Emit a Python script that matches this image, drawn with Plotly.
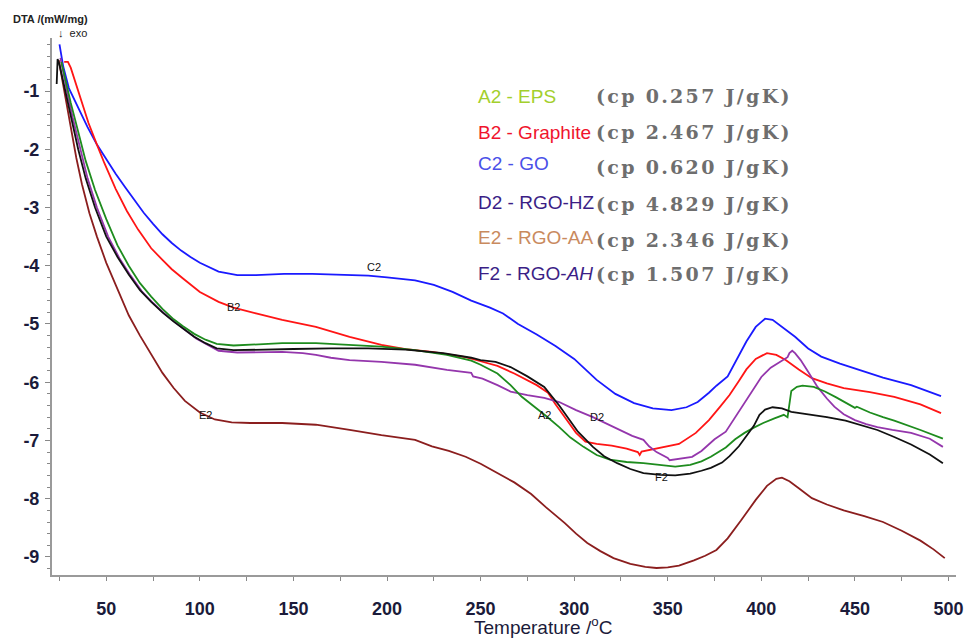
import plotly.graph_objects as go

# ---------------- data ----------------
T_C2 = [25, 27, 30, 35, 40, 45, 50, 55, 60, 65, 70, 75, 80, 85, 90, 95, 100, 110, 120, 130, 145, 160, 175, 190, 200,
        215, 225, 235, 245, 255, 262, 270, 280, 290, 300, 312, 322, 332, 342, 352, 360, 366, 372, 376, 382, 387,
        392, 397, 402, 406, 412, 418, 425, 432, 442, 453, 465, 480, 496]
V_C2 = [-0.2, -0.58, -0.95, -1.3, -1.62, -1.92, -2.18, -2.42, -2.65, -2.88, -3.09, -3.28, -3.46, -3.61, -3.74, -3.85,
        -3.95, -4.1, -4.16, -4.16, -4.14, -4.14, -4.15, -4.17, -4.2, -4.25, -4.33, -4.45, -4.6, -4.72, -4.82, -5.0,
        -5.18, -5.38, -5.6, -5.96, -6.2, -6.36, -6.45, -6.48, -6.43, -6.34, -6.18, -6.06, -5.9, -5.6, -5.3, -5.05,
        -4.91, -4.93, -5.08, -5.22, -5.42, -5.56, -5.68, -5.79, -5.92, -6.05, -6.24]

T_B2 = [27.5, 29.5, 31, 34, 37, 40.5, 45, 49, 55, 61, 67, 74, 80, 85, 91, 100, 110, 118, 130, 144, 162, 180, 197,
        210, 224, 242, 250, 259, 268, 275, 280, 286, 290, 295, 301, 306, 312, 320, 328, 334, 335, 336, 342, 350,
        356, 365, 372, 378, 383, 388, 392, 397, 403, 408, 413, 420, 427, 435, 444, 458, 471, 485, 496]
V_B2 = [-0.5, -0.5, -0.6, -0.9, -1.2, -1.55, -1.92, -2.24, -2.68, -3.06, -3.38, -3.7, -3.9, -4.06, -4.22, -4.45,
        -4.62, -4.72, -4.82, -4.93, -5.05, -5.22, -5.36, -5.43, -5.48, -5.57, -5.64, -5.72, -5.85, -5.96, -6.05,
        -6.18, -6.38, -6.6, -6.87, -7.02, -7.06, -7.09, -7.14, -7.2, -7.25, -7.19, -7.15, -7.1, -7.06, -6.87, -6.65,
        -6.42, -6.22, -5.98, -5.78, -5.6, -5.5, -5.53, -5.62, -5.78, -5.93, -6.02, -6.1, -6.17, -6.25, -6.38, -6.53]

T_A2 = [26, 28, 31, 35, 39, 44, 50, 56, 62, 68, 74, 80, 86, 91, 97, 103, 109, 118, 127, 144, 162, 180, 197, 215,
        232, 245, 250, 259, 266, 272, 279, 285, 292, 298, 305, 312, 319, 328, 337, 346, 354, 362, 368, 373, 381,
        386, 391, 396, 401, 407, 412, 414, 415, 416, 419, 422, 428, 434, 440, 446, 450, 451, 458, 465, 471, 485, 497]
V_A2 = [-0.5, -0.8, -1.2, -1.7, -2.2, -2.7, -3.2, -3.65, -4.0, -4.3, -4.53, -4.74, -4.92, -5.04, -5.17, -5.27,
        -5.34, -5.37, -5.36, -5.33, -5.33, -5.36, -5.39, -5.45, -5.53, -5.63, -5.7, -5.85, -6.05, -6.25, -6.42,
        -6.58, -6.77, -6.95, -7.11, -7.25, -7.33, -7.37, -7.39, -7.42, -7.45, -7.42, -7.36, -7.28, -7.12, -6.98,
        -6.87, -6.78, -6.7, -6.62, -6.56, -6.6, -6.4, -6.15, -6.08, -6.06, -6.08, -6.16, -6.26, -6.36, -6.44, -6.42,
        -6.52, -6.6, -6.66, -6.82, -6.97]

T_D2 = [25.5, 27, 29, 32, 36, 40, 45, 51, 57, 63, 69, 75, 81, 87, 92, 98, 104, 110, 120, 135, 144, 155, 162, 170,
        180, 197, 215, 232, 245, 246, 251, 259, 266, 275, 284, 292, 301, 310, 322, 331, 337, 340, 344, 350, 351,
        355, 363, 368, 375, 381, 387, 391, 396, 400, 405, 411, 414, 415, 416.5, 418, 421, 425, 430, 435, 439, 444,
        450, 456, 462, 470, 480, 490, 497]
V_D2 = [-0.43, -0.65, -1.0, -1.45, -2.0, -2.5, -3.0, -3.5, -3.87, -4.17, -4.44, -4.64, -4.82, -4.98, -5.1, -5.25,
        -5.36, -5.46, -5.49, -5.48, -5.48, -5.5, -5.53, -5.58, -5.62, -5.65, -5.7, -5.79, -5.84, -5.9, -5.94, -6.05,
        -6.16, -6.22, -6.27, -6.34, -6.48, -6.6, -6.79, -6.92, -6.99, -7.1, -7.2, -7.3, -7.34, -7.32, -7.28, -7.18,
        -6.98, -6.85, -6.55, -6.36, -6.12, -5.91, -5.75, -5.62, -5.57, -5.5, -5.46, -5.5, -5.62, -5.82, -6.08,
        -6.28, -6.42, -6.55, -6.65, -6.72, -6.77, -6.82, -6.87, -6.97, -7.11]

T_E2 = [24.6, 26, 28, 31, 34, 37, 41, 45, 50, 56, 62, 68, 74, 80, 86, 92, 100, 108, 117, 127, 144, 162, 180, 197,
        215, 224, 233, 242, 250, 259, 268, 277, 285, 295, 301, 307, 314, 321, 330, 338, 344, 350, 356, 364, 370,
        376, 382, 389, 397, 403, 408, 411, 415, 420, 427, 435, 444, 455, 465, 475, 485, 492, 498]
V_E2 = [-0.47, -0.72, -1.1, -1.65, -2.15, -2.6, -3.1, -3.5, -3.95, -4.4, -4.85, -5.2, -5.52, -5.84, -6.1, -6.32,
        -6.52, -6.64, -6.69, -6.7, -6.7, -6.73, -6.82, -6.91, -6.99, -7.1, -7.18, -7.28, -7.4, -7.56, -7.72, -7.92,
        -8.15, -8.42, -8.6, -8.76, -8.9, -9.02, -9.12, -9.17, -9.19, -9.18, -9.15, -9.06, -8.98, -8.88, -8.68,
        -8.38, -8.02, -7.78, -7.66, -7.64, -7.7, -7.82, -7.99, -8.1, -8.2, -8.3, -8.4, -8.55, -8.72, -8.87, -9.02]

T_F2 = [23.5, 24, 25, 26, 28, 31, 35, 39, 44, 50, 56, 62, 68, 74, 80, 86, 91, 97, 103, 109, 118, 130, 150, 170,
        190, 210, 230, 245, 250, 258, 266, 275, 284, 292, 297, 302, 310, 316, 323, 330, 337, 346, 354, 362, 368,
        373, 379, 383, 388, 392, 396, 399, 402, 406, 411, 416, 425, 435, 445, 453, 462, 471, 480, 490, 497]
V_F2 = [-0.88, -0.45, -0.55, -0.7, -1.0, -1.45, -2.0, -2.5, -3.0, -3.5, -3.85, -4.15, -4.42, -4.62, -4.8, -4.96,
        -5.08, -5.22, -5.33, -5.42, -5.45, -5.44, -5.43, -5.42, -5.42, -5.44, -5.5, -5.58, -5.62, -5.65, -5.74,
        -5.9, -6.08, -6.4, -6.62, -6.85, -7.11, -7.27, -7.39, -7.49, -7.56, -7.59, -7.6, -7.57, -7.52, -7.47,
        -7.38, -7.27, -7.1, -6.92, -6.75, -6.56, -6.47, -6.43, -6.45, -6.51, -6.55, -6.6, -6.66, -6.73, -6.82,
        -6.94, -7.07, -7.24, -7.39]

SERIES = ["A2", "B2", "C2", "D2", "E2", "F2"]
NAMES = ["EPS", "Graphite", "GO", "RGO-HZ", "RGO-AA", "RGO-<i>AH</i>"]
CP = ["0.257", "2.467", "0.620", "4.829", "2.346", "1.507"]

Y_TICK_VALUES = [-1, -2, -3, -4, -5, -6, -7, -8, -9]
Y_TICK_LABELS = ["-1", "-2", "-3", "-4", "-5", "-6", "-7", "-8", "-9"]
X_TICK_VALUES = [50, 100, 150, 200, 250, 300, 350, 400, 450, 500]
X_TICK_LABELS = ["50", "100", "150", "200", "250", "300", "350", "400", "450", "500"]

# curve label positions (data units)
LABEL_T = {"A2": 284, "B2": 118, "C2": 193, "D2": 312, "E2": 103, "F2": 346.5}
LABEL_V = {"A2": -6.56, "B2": -4.71, "C2": -4.02, "D2": -6.6, "E2": -6.56, "F2": -7.63}

# ---------------- styling ----------------
line_colors = {"A2": "#1e8c1e", "B2": "#ff1515", "C2": "#1a1aff", "D2": "#9436ac", "E2": "#8b1e1e", "F2": "#111111"}
legend_colors = {"A2": "#a3cf2c", "B2": "#f0142d", "C2": "#4a50e8", "D2": "#3b1e86", "E2": "#c98a5e", "F2": "#3b1e86"}
data = {"A2": (T_A2, V_A2), "B2": (T_B2, V_B2), "C2": (T_C2, V_C2),
        "D2": (T_D2, V_D2), "E2": (T_E2, V_E2), "F2": (T_F2, V_F2)}

W, H = 971, 638
L, R, TOP, B = 52, 8, 38, 63
PW, PH = W - L - R, H - TOP - B


def px(xp):
    return (xp - L) / PW


def py(yp):
    return (H - B - yp) / PH


fig = go.Figure()
for s in ["E2", "C2", "B2", "D2", "A2", "F2"]:
    t, v = data[s]
    fig.add_trace(go.Scatter(x=t, y=v, mode="lines", line=dict(color=line_colors[s], width=1.8),
                             showlegend=False, hoverinfo="skip"))

ann = []
for s in SERIES:
    ann.append(dict(x=LABEL_T[s], y=LABEL_V[s], xref="x", yref="y", text=s, showarrow=False,
                    font=dict(family="Liberation Sans, Arial", size=11, color="#111")))

leg_y = [96, 132, 163, 202, 237, 273]
cp_y = [96, 132, 167, 204, 240, 274]
for i, s in enumerate(SERIES):
    ann.append(dict(x=px(479), y=py(leg_y[i]), xref="paper", yref="paper", xanchor="left", yanchor="middle",
                    text=f"{s} - {NAMES[i]}", showarrow=False,
                    font=dict(family="Liberation Sans, Arial", size=19, color=legend_colors[s])))
    ann.append(dict(x=px(598), y=py(cp_y[i]), xref="paper", yref="paper", xanchor="left", yanchor="middle",
                    text=f'<span style="letter-spacing:2.3px">(cp {CP[i]} J/gK)</span>', showarrow=False,
                    font=dict(family="DejaVu Serif", size=19, color="#6e6e6e", weight="bold")))

ann.append(dict(x=px(11), y=py(19), xref="paper", yref="paper", xanchor="left", yanchor="middle",
                text="DTA /(mW/mg)", showarrow=False,
                font=dict(family="Liberation Sans, Arial", size=11, color="#222", weight="bold")))
ann.append(dict(x=px(56), y=py(33), xref="paper", yref="paper", xanchor="left", yanchor="middle",
                text="↓  exo", showarrow=False,
                font=dict(family="Liberation Sans, Arial", size=11, color="#222")))
ann.append(dict(x=px(547), y=py(626), xref="paper", yref="paper", xanchor="center", yanchor="middle",
                text="Temperature /<sup>o</sup>C", showarrow=False,
                font=dict(family="Liberation Sans, Arial", size=19, color="#1b1b3a")))

tick_font = dict(family="Liberation Sans, Arial", size=18, color="#1b1b3a", weight="bold")

fig.update_layout(
    width=W, height=H, margin=dict(l=L, r=R, t=TOP, b=B),
    paper_bgcolor="white", plot_bgcolor="white",
    annotations=ann,
    xaxis=dict(range=[21, 504], tickmode="array", tickvals=X_TICK_VALUES, ticktext=X_TICK_LABELS,
               ticks="outside", ticklen=4, tickwidth=1, tickcolor="#888",
               showline=True, linecolor="#9a9a9a", linewidth=2, showgrid=False, zeroline=False,
               tickfont=tick_font, ticklabelstandoff=12,
               minor=dict(dtick=25, tick0=0, ticks="outside", ticklen=4, tickcolor="#888", showgrid=False)),
    yaxis=dict(range=[-9.31, -0.09], tickmode="array", tickvals=Y_TICK_VALUES, ticktext=Y_TICK_LABELS,
               ticks="outside", ticklen=5, tickwidth=1, tickcolor="#888",
               showline=True, linecolor="#9a9a9a", linewidth=2, showgrid=False, zeroline=False,
               tickfont=tick_font, ticklabelstandoff=2,
               minor=dict(dtick=0.2, tick0=0, ticks="outside", ticklen=3, tickcolor="#888", showgrid=False)),
)

fig.write_html("out.html", config={"displayModeBar": False},
               post_script="document.body.style.margin='0';")
